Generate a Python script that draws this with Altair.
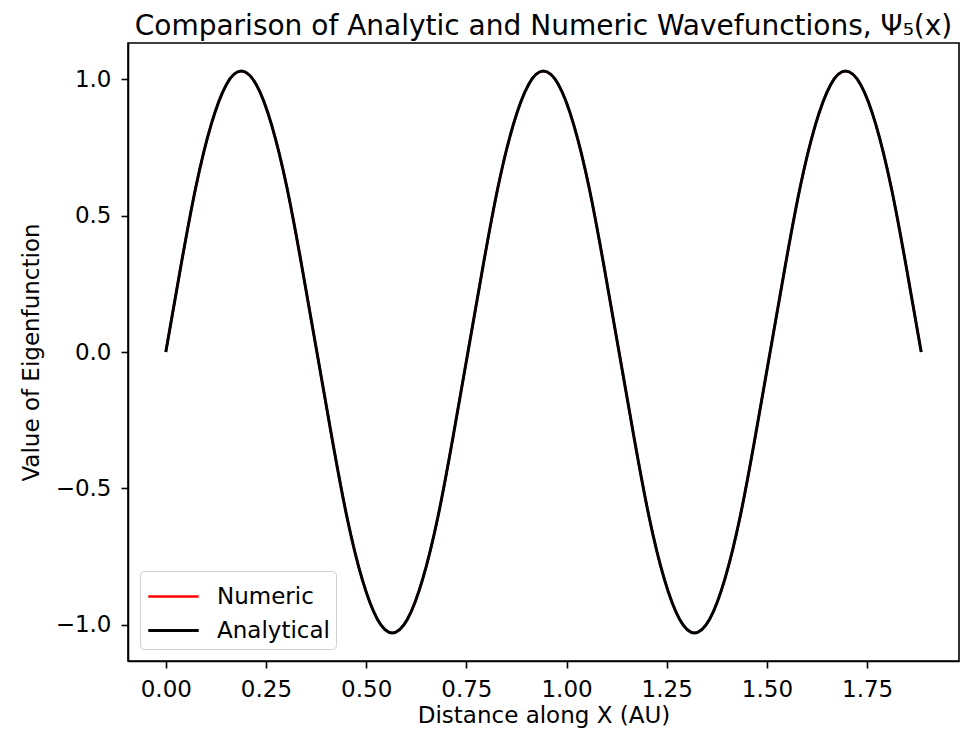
import altair as alt
import pandas as pd

# Values
x_vals = [0.000, 0.038, 0.075, 0.113, 0.151, 0.188, 0.226, 0.264, 0.302, 0.339,
          0.377, 0.415, 0.452, 0.490, 0.528, 0.565, 0.603, 0.641, 0.679, 0.716,
          0.754, 0.792, 0.829, 0.867, 0.905, 0.942, 0.980, 1.018, 1.056, 1.093,
          1.131, 1.169, 1.206, 1.244, 1.282, 1.319, 1.357, 1.395, 1.433, 1.470,
          1.508, 1.546, 1.583, 1.621, 1.659, 1.696, 1.734, 1.772, 1.810, 1.847,
          1.885]
psi_analytic = [0.000, 0.318, 0.605, 0.833, 0.980, 1.030, 0.980, 0.833, 0.605, 0.318,
                0.000, -0.318, -0.605, -0.833, -0.980, -1.030, -0.980, -0.833, -0.605, -0.318,
                0.000, 0.318, 0.605, 0.833, 0.980, 1.030, 0.980, 0.833, 0.605, 0.318,
                0.000, -0.318, -0.605, -0.833, -0.980, -1.030, -0.980, -0.833, -0.605, -0.318,
                0.000, 0.318, 0.605, 0.833, 0.980, 1.030, 0.980, 0.833, 0.605, 0.318,
                0.000]
psi_numeric = list(psi_analytic)

series_names = ["Numeric", "Analytical"]
series_colors = ["#ff0000", "#000000"]
series_widths = [2.4, 3.0]
x_ticks = [0.0, 0.25, 0.5, 0.75, 1.0, 1.25, 1.5, 1.75]
y_ticks = [-1.0, -0.5, 0.0, 0.5, 1.0]

df = pd.concat([
    pd.DataFrame({"x": x_vals, "y": psi_numeric, "series": "Numeric"}),
    pd.DataFrame({"x": x_vals, "y": psi_analytic, "series": "Analytical"}),
])

FONT = "DejaVu Sans"
FS = 23

chart = alt.Chart(df).mark_line(interpolate="natural").encode(
    x=alt.X("x:Q", scale=alt.Scale(domain=[-0.0943, 1.9793], nice=False, zero=False),
            axis=alt.Axis(values=x_ticks, format=".2f", title="Distance along X (AU)",
                          grid=False, domainColor="black", domainWidth=1.6,
                          tickColor="black", tickWidth=1.6, tickSize=7, labelPadding=10,
                          labelFont=FONT, labelFontSize=FS, labelColor="black",
                          titleFont=FONT, titleFontSize=FS, titleFontWeight="normal",
                          titleColor="black", titlePadding=3)),
    y=alt.Y("y:Q", scale=alt.Scale(domain=[-1.133, 1.133], nice=False, zero=False),
            axis=alt.Axis(values=y_ticks, format=".1f", title="Value of Eigenfunction",
                          grid=False, domainColor="black", domainWidth=1.6,
                          tickColor="black", tickWidth=1.6, tickSize=7, labelPadding=10,
                          labelFont=FONT, labelFontSize=FS, labelColor="black",
                          titleFont=FONT, titleFontSize=FS, titleFontWeight="normal",
                          titleColor="black", titlePadding=12)),
    color=alt.Color("series:N",
                    scale=alt.Scale(domain=series_names, range=series_colors),
                    legend=alt.Legend(title=None, orient="bottom-left",
                                      symbolType="M-1.4,0H1.4",
                                      symbolStrokeWidth=3, symbolSize=1296,
                                      symbolOffset=8,
                                      labelFont=FONT, labelFontSize=FS, labelColor="black",
                                      fillColor="white", strokeColor="#d0d0d0",
                                      cornerRadius=4, padding=6, offset=12,
                                      rowPadding=2, labelOffset=24)),
    strokeWidth=alt.StrokeWidth("series:N",
                                scale=alt.Scale(domain=series_names, range=series_widths),
                                legend=None),
).properties(
    width=831,
    height=618,
    title=alt.TitleParams("Comparison of Analytic and Numeric Wavefunctions, Ψ₅(x)",
                          font=FONT, fontSize=28, fontWeight="normal", color="black",
                          offset=2),
    padding={"left": 120, "top": 35, "right": 2, "bottom": 70},
    autosize=alt.AutoSizeParams(type="none"),
    background="white",
).configure_view(
    stroke="black", strokeWidth=1.6
)

chart.save("out.html", embed_options={"renderer": "svg", "actions": False})
